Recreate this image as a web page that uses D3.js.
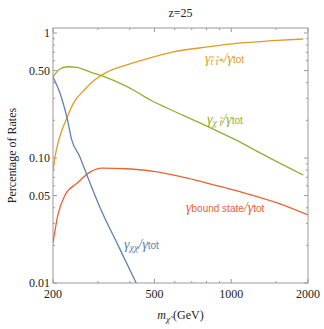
<!DOCTYPE html>
<html lang="en">
<head>
<meta charset="UTF-8">
<title>z=25 rates</title>
<style>
    body { margin: 0; background: #fff; }
    svg text { font-family: "Liberation Serif", "DejaVu Serif", serif; fill: #222; }
    .tick-label { font-size: 12px; }
    .lbl { font-family: "Liberation Serif", serif; font-style: italic; }
    .sub { font-family: "Liberation Sans", "DejaVu Sans", sans-serif; font-style: normal; }
</style>
</head>
<body>
<svg id="chart" width="324" height="329"></svg>
<script src="https://d3js.org/d3.v7.min.js"></script>
<script>
    // mass (GeV) and fraction of total rate
    const blueMass = [200, 213, 227, 237, 255, 267, 306, 360, 424];
    const blueVals = [0.445, 0.331, 0.209, 0.139, 0.102, 0.080, 0.040, 0.020, 0.010];

    const orangeMass = [200, 204, 213, 227, 240, 267, 291, 327, 378, 451, 593, 807, 1090, 1396, 1916];
    const orangeVals = [0.079, 0.104, 0.150, 0.210, 0.272, 0.355, 0.420, 0.488, 0.545, 0.608, 0.705, 0.773, 0.832, 0.863, 0.895];

    const greenMass = [200, 213, 229, 249, 279, 327, 378, 413, 482, 563, 757, 1023, 1388, 1917];
    const greenVals = [0.445, 0.515, 0.537, 0.530, 0.488, 0.437, 0.384, 0.350, 0.291, 0.250, 0.190, 0.142, 0.102, 0.073];

    const redMass = [200, 209, 223, 249, 280, 311, 391, 514, 673, 853, 1090, 1524, 2000];
    const redVals = [0.021, 0.035, 0.0505, 0.063, 0.0775, 0.083, 0.082, 0.0775, 0.069, 0.061, 0.0535, 0.0435, 0.035];

    const xTicks = [200, 500, 1000, 2000];
    const xMinor = [300, 400, 600, 700, 800, 900, 1500];
    const yTicks = [0.01, 0.05, 0.1, 0.5, 1];
    const yTickLabels = ["0.01", "0.05", "0.10", "0.50", "1"];
    const yMinor = [0.02, 0.03, 0.04, 0.06, 0.07, 0.08, 0.09, 0.2, 0.3, 0.4, 0.6, 0.7, 0.8, 0.9];

    const svg = d3.select("#chart");
    const mLeft = 53, mRight = 308, mTop = 28, mBottom = 283;

    const x = d3.scaleLog().domain([200, 2000]).range([mLeft, mRight]);
    const y = d3.scaleLog().domain([0.01, 1.096]).range([mBottom, mTop]);

    const frameColor = "#9a9a9a";

    // ticks on all four sides, pointing inward
    function ticks(vals, len, isX) {
        vals.forEach(v => {
            if (isX) {
                svg.append("line").attr("x1", x(v)).attr("x2", x(v)).attr("y1", mBottom).attr("y2", mBottom - len)
                    .attr("stroke", frameColor);
                svg.append("line").attr("x1", x(v)).attr("x2", x(v)).attr("y1", mTop).attr("y2", mTop + len)
                    .attr("stroke", frameColor);
            } else {
                svg.append("line").attr("y1", y(v)).attr("y2", y(v)).attr("x1", mLeft).attr("x2", mLeft + len)
                    .attr("stroke", frameColor);
                svg.append("line").attr("y1", y(v)).attr("y2", y(v)).attr("x1", mRight).attr("x2", mRight - len)
                    .attr("stroke", frameColor);
            }
        });
    }
    ticks(xTicks, 4, true);
    ticks(xMinor, 2, true);
    ticks(yTicks, 4, false);
    ticks(yMinor, 2, false);

    svg.append("rect")
        .attr("x", mLeft).attr("y", mTop)
        .attr("width", mRight - mLeft).attr("height", mBottom - mTop)
        .attr("fill", "none").attr("stroke", frameColor).attr("stroke-width", 1);

    svg.selectAll(".xl").data(xTicks).enter().append("text")
        .attr("class", "tick-label")
        .attr("x", d => x(d)).attr("y", 298)
        .attr("text-anchor", "middle")
        .text(d => d);

    svg.selectAll(".yl").data(yTicks).enter().append("text")
        .attr("class", "tick-label")
        .attr("x", mLeft - 3).attr("y", d => y(d) + 4)
        .attr("text-anchor", "end")
        .text((d, i) => yTickLabels[i]);

    // curves
    const line = d3.line().x(d => x(d[0])).y(d => y(d[1])).curve(d3.curveMonotoneX);
    const series = [
        { m: orangeMass, v: orangeVals, c: "#e19c24" },
        { m: greenMass, v: greenVals, c: "#8fb032" },
        { m: redMass, v: redVals, c: "#eb6235" },
        { m: blueMass, v: blueVals, c: "#5e81b5" }
    ];
    svg.append("clipPath").attr("id", "clip").append("rect")
        .attr("x", mLeft).attr("y", mTop).attr("width", mRight - mLeft).attr("height", mBottom - mTop);
    series.forEach(s => {
        svg.append("path")
            .datum(s.m.map((m, i) => [m, s.v[i]]))
            .attr("d", line)
            .attr("clip-path", "url(#clip)")
            .attr("fill", "none")
            .attr("stroke", s.c)
            .attr("stroke-width", 1.3);
    });

    // curve labels
    function label(xp, yp, color, parts) {
        const t = svg.append("text").attr("x", xp).attr("y", yp)
            .attr("class", "lbl").style("font-size", "14px").style("fill", color);
        parts.forEach(p => {
            const ts = t.append("tspan").text(p.t).style("fill", color);
            if (p.sub) ts.attr("class", "sub").style("font-size", "10px");
            if (p.small) ts.style("font-size", "10px");
            if (p.dy) ts.attr("dy", p.dy);
        });
    }
    label(205, 63, "#e19c24", [
        { t: "γ" }, { t: "t̃ t̃*", small: true, dy: 2 }, { t: "/γ", dy: -2 }, { t: "tot", sub: true }
    ]);
    label(207, 124, "#8fb032", [
        { t: "γ" }, { t: "χ t̃", small: true, dy: 2 }, { t: "/γ", dy: -2 }, { t: "tot", sub: true }
    ]);
    label(186, 212, "#eb6235", [
        { t: "γ" }, { t: "bound state", sub: true }, { t: "/γ" }, { t: "tot", sub: true }
    ]);
    label(124, 249, "#5e81b5", [
        { t: "γ" }, { t: "χχ", small: true, dy: 2 }, { t: "/γ", dy: -2 }, { t: "tot", sub: true }
    ]);

    // title and axis labels
    svg.append("text").attr("x", (mLeft + mRight) / 2).attr("y", 17)
        .attr("text-anchor", "middle").style("font-size", "12px").text("z=25");

    svg.append("text")
        .attr("transform", `translate(16,${(mTop + mBottom) / 2}) rotate(-90)`)
        .attr("text-anchor", "middle").style("font-size", "12px")
        .text("Percentage of Rates");

    const xl = svg.append("text").attr("x", (mLeft + mRight) / 2).attr("y", 319)
        .attr("text-anchor", "middle").style("font-size", "12px");
    xl.append("tspan").style("font-style", "italic").text("m");
    xl.append("tspan").style("font-style", "italic").style("font-size", "9px").attr("dy", 3).text("χ̃");
    xl.append("tspan").attr("dy", -3).text(" (GeV)");
</script>
</body>
</html>
